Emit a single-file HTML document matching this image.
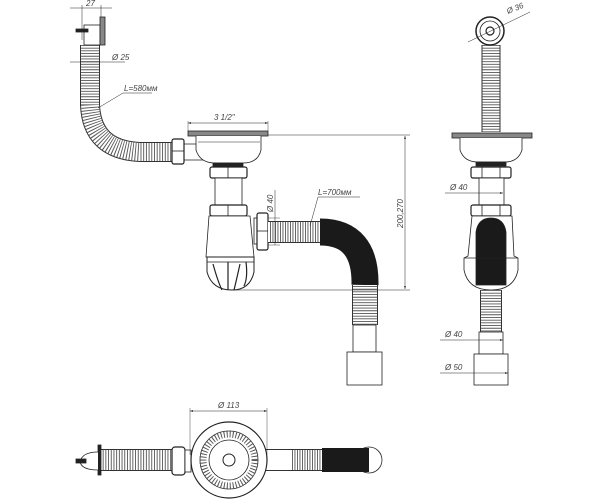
<!DOCTYPE html>
<html><head><meta charset="utf-8"><style>
html,body{margin:0;padding:0;background:#fff;width:600px;height:500px;overflow:hidden}
svg text{font-family:"Liberation Sans",sans-serif;font-style:italic;font-size:8px;fill:#444;stroke:none}
</style></head><body>
<svg width="600" height="500" viewBox="0 0 600 500" xmlns="http://www.w3.org/2000/svg" fill="none" stroke="#222" stroke-width="0.8">
<defs>
<marker id="a" markerWidth="6" markerHeight="4" refX="6" refY="2" orient="auto-start-reverse"><path d="M0,0 L6,2 L0,4z" fill="#333" stroke="none"/></marker>
</defs>
<!-- ===== MAIN VIEW ===== -->
<path d="M90,45 L90,105 Q92,150 140,152 L176,152" stroke="#333" stroke-width="20"/>
<path d="M90,45 L90,105 Q92,150 140,152 L176,152" stroke="#fff" stroke-width="18"/>
<path d="M90,45 L90,105 Q92,150 140,152 L176,152" stroke="#555" stroke-width="18" stroke-dasharray="0.9 1.8"/>
<rect x="84" y="25" width="16" height="20" fill="#fff"/>
<rect x="100" y="17" width="5" height="28" fill="#888"/>
<rect x="76" y="29" width="12" height="3" fill="#222"/>
<line x1="70" y1="8" x2="112" y2="8" stroke-width="0.6"/><line x1="82" y1="5" x2="82" y2="40" stroke-width="0.5"/><line x1="101" y1="5" x2="101" y2="17" stroke-width="0.5"/>
<text x="86" y="6">27</text>
<line x1="70" y1="62" x2="125" y2="62" stroke-width="0.5"/><text x="112" y="60">Ø 25</text>
<line x1="98" y1="108" x2="123" y2="93" stroke-width="0.5"/><line x1="123" y1="93" x2="152" y2="93" stroke-width="0.5"/><text x="124" y="91">L=580мм</text>
<rect x="172" y="139" width="12" height="25" rx="2" fill="#fff" stroke-width="1.2"/><line x1="172" y1="151" x2="184" y2="151"/>
<path d="M184,144 L196,144 M184,160 L205,160"/>
<rect x="188" y="131" width="80" height="5" fill="#888" stroke="#222"/>
<path d="M196,136 L196,150 Q200,163 215,163 L243,163 Q258,163 261,150 L261,136" fill="#fff"/>
<line x1="198" y1="142" x2="260" y2="142" stroke-width="0.5"/>
<line x1="188" y1="123" x2="268" y2="123" stroke-width="0.5" marker-start="url(#a)" marker-end="url(#a)"/>
<line x1="188" y1="121" x2="188" y2="131" stroke-width="0.4"/><line x1="268" y1="121" x2="268" y2="131" stroke-width="0.4"/>
<text x="214" y="120">3 1/2"</text>
<rect x="213" y="163" width="30" height="4" fill="#222"/>
<rect x="210" y="167" width="37" height="11" rx="2" fill="#fff" stroke-width="1.2"/><line x1="228" y1="167" x2="228" y2="178"/>
<rect x="215" y="178" width="27" height="27" fill="#fff"/>
<rect x="210" y="205" width="37" height="11" rx="2" fill="#fff" stroke-width="1.2"/><line x1="228" y1="205" x2="228" y2="216"/>
<path d="M209,216 L250,216 L254,257 L206,257 Z" fill="#fff"/>
<path d="M207,257 L254,257 L254,272 Q250,290 232,290 Q212,290 207,272 Z" fill="#fff" stroke-width="1"/>
<path d="M213,264 Q218,282 222,290 M228,262 L228,290 M240,264 Q236,282 234,290 M246,262 Q248,278 244,286" stroke-width="1.2"/>
<line x1="207" y1="262" x2="254" y2="262"/>
<rect x="254" y="218" width="6" height="26" fill="#fff"/>
<rect x="257" y="213" width="11" height="37" rx="2" fill="#fff" stroke-width="1.2"/><line x1="257" y1="231" x2="268" y2="231"/>
<path d="M268,232 L322,232" stroke="#333" stroke-width="22"/>
<path d="M268,232 L322,232" stroke="#fff" stroke-width="20"/>
<path d="M270,232 L322,232" stroke="#555" stroke-width="20" stroke-dasharray="0.9 1.6"/>
<path d="M320,232 Q366,232 365,285" stroke="#1a1a1a" stroke-width="27"/>
<path d="M365,285 L365,325" stroke="#333" stroke-width="26"/>
<path d="M365,285 L365,325" stroke="#fff" stroke-width="24"/>
<path d="M365,286 L365,325" stroke="#555" stroke-width="24" stroke-dasharray="0.9 1.8"/>
<rect x="353" y="325" width="23" height="27" fill="#fff"/>
<rect x="347" y="352" width="35" height="33" fill="#fff"/>
<line x1="268" y1="218" x2="280" y2="218" stroke-width="0.4"/><line x1="268" y1="245" x2="280" y2="245" stroke-width="0.4"/>
<line x1="275" y1="190" x2="275" y2="245" stroke-width="0.5"/>
<text transform="translate(273,212) rotate(-90)">Ø 40</text>
<line x1="310" y1="226" x2="318" y2="197" stroke-width="0.5"/><line x1="318" y1="197" x2="360" y2="197" stroke-width="0.5"/><text x="318" y="195">L=700мм</text>
<line x1="268" y1="135" x2="410" y2="135" stroke-width="0.5"/>
<line x1="232" y1="290" x2="410" y2="290" stroke-width="0.5"/>
<line x1="405" y1="136" x2="405" y2="289" stroke-width="0.5" marker-start="url(#a)" marker-end="url(#a)"/>
<text transform="translate(403,228) rotate(-90)">200,270</text>
<!-- ===== SIDE VIEW ===== -->
<path d="M491,45 L491,132" stroke="#333" stroke-width="19"/>
<path d="M491,45 L491,132" stroke="#fff" stroke-width="17"/>
<path d="M491,45 L491,132" stroke="#555" stroke-width="17" stroke-dasharray="0.9 1.8"/>
<circle cx="490" cy="31" r="14" fill="#fff" stroke-width="1.5"/><circle cx="490" cy="31" r="10" fill="#fff"/><circle cx="490" cy="31" r="4" stroke-width="1.2"/>
<line x1="468" y1="42" x2="530" y2="12" stroke-width="0.5"/><text x="508" y="14" transform="rotate(-22 508 14)">Ø 36</text>
<rect x="452" y="133" width="80" height="5" fill="#888" stroke="#222"/>
<path d="M460,138 L460,150 Q464,162 478,162 L505,162 Q518,162 522,150 L522,138" fill="#fff"/>
<rect x="476" y="162" width="30" height="4" fill="#222"/>
<rect x="471" y="167" width="40" height="11" rx="2" fill="#fff" stroke-width="1.2"/><line x1="482" y1="167" x2="482" y2="178"/><line x1="500" y1="167" x2="500" y2="178"/>
<rect x="479" y="178" width="25" height="27" fill="#fff"/>
<rect x="471" y="205" width="40" height="11" rx="2" fill="#fff" stroke-width="1.2"/><line x1="482" y1="205" x2="482" y2="216"/><line x1="500" y1="205" x2="500" y2="216"/>
<path d="M472,216 L512,216 L514,256 L518,258 L518,270 Q514,290 491,290 Q468,290 464,270 L464,258 L468,256 Z" fill="#fff"/>
<path d="M476,285 L476,232 Q478,218 491,218 Q504,218 506,232 L506,285 Z" fill="#1a1a1a"/>
<line x1="464" y1="258" x2="518" y2="258"/>
<path d="M491,290 L491,332" stroke="#333" stroke-width="22"/>
<path d="M491,290 L491,332" stroke="#fff" stroke-width="20"/>
<path d="M491,290 L491,332" stroke="#555" stroke-width="20" stroke-dasharray="0.9 1.8"/>
<rect x="479" y="332" width="24" height="22" fill="#fff"/>
<rect x="474" y="354" width="34" height="31" fill="#fff"/>
<line x1="445" y1="193" x2="503" y2="193" stroke-width="0.5" marker-end="url(#a)"/><text x="450" y="190">Ø 40</text>
<line x1="440" y1="340" x2="503" y2="340" stroke-width="0.5" marker-end="url(#a)"/><text x="445" y="337">Ø 40</text>
<line x1="440" y1="373" x2="508" y2="373" stroke-width="0.5" marker-end="url(#a)"/><text x="445" y="370">Ø 50</text>
<!-- ===== BOTTOM VIEW ===== -->
<path d="M100,460 L176,460" stroke="#333" stroke-width="22"/>
<path d="M100,460 L176,460" stroke="#fff" stroke-width="20"/>
<path d="M100,460 L176,460" stroke="#555" stroke-width="20" stroke-dasharray="0.9 1.8"/>
<rect x="98" y="445" width="3" height="30" fill="#222"/>
<path d="M98,452 Q82,452 80,462 Q82,470 98,470" fill="#fff"/><rect x="76" y="459" width="10" height="4" fill="#222"/>
<rect x="172" y="447" width="13" height="28" rx="3" fill="#fff" stroke-width="1.2"/>
<rect x="185" y="450" width="6" height="22" fill="#fff"/>
<path d="M264,460 L340,460" stroke="#333" stroke-width="22"/>
<path d="M266,460 L290,460" stroke="#fff" stroke-width="20"/>
<path d="M290,460 L322,460" stroke="#fff" stroke-width="20"/>
<path d="M292,460 L322,460" stroke="#555" stroke-width="20" stroke-dasharray="0.9 1.6"/>
<circle cx="369" cy="460" r="13" fill="#fff"/>
<path d="M322,460 L369,460" stroke="#1a1a1a" stroke-width="24"/>
<circle cx="229" cy="460" r="38" fill="#fff" stroke-width="1.2"/>
<circle cx="229" cy="460" r="29" fill="#fff"/>
<circle cx="229" cy="460" r="26" stroke="#555" stroke-width="7" stroke-dasharray="1 2"/>
<circle cx="229" cy="460" r="20"/>
<circle cx="229" cy="460" r="6" stroke-width="1"/>
<line x1="190" y1="411" x2="267" y2="411" stroke-width="0.5" marker-start="url(#a)" marker-end="url(#a)"/>
<line x1="190" y1="408" x2="190" y2="455" stroke-width="0.4"/><line x1="267" y1="408" x2="267" y2="455" stroke-width="0.4"/>
<text x="218" y="408">Ø 113</text>
</svg>
</body></html>
